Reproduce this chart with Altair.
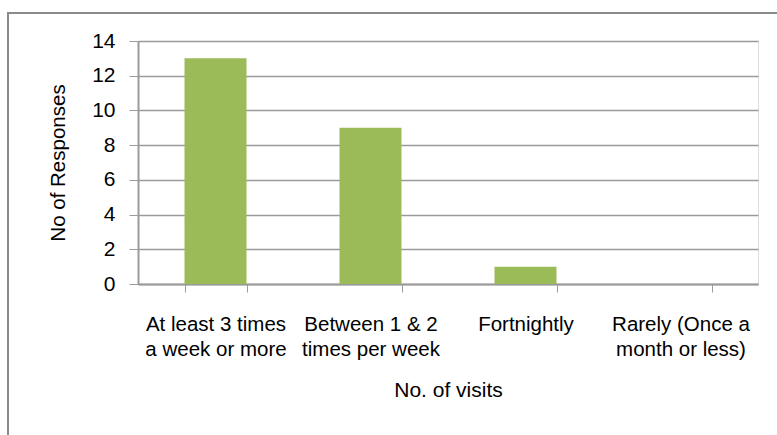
import altair as alt
import pandas as pd

categories = [
    "At least 3 times\na week or more",
    "Between 1 & 2\ntimes per week",
    "Fortnightly",
    "Rarely (Once a\nmonth or less)",
]
responses = [13, 9, 1, 0]
y_ticks = [0, 2, 4, 6, 8, 10, 12, 14]

df = pd.DataFrame({"visits": categories, "responses": responses})

FONT = "Liberation Sans"
GRAY = "#9a9a9a"

bars = alt.Chart(df).mark_bar(color="#9BBB59").encode(
    x=alt.X(
        "visits:N",
        sort=categories,
        scale=alt.Scale(paddingInner=0.6, paddingOuter=0.3),
        axis=alt.Axis(
            title="No. of visits",
            labelAngle=0,
            labelExpr="split(datum.label, '\\n')",
            labelLineHeight=25,
            labelFontSize=20.5,
            labelPadding=22,
            labelColor="#000000",
            labelFont=FONT,
            tickBand="extent",
            tickSize=8,
            tickColor=GRAY,
            domainColor=GRAY,
            domainWidth=2,
            titleFont=FONT,
            titleFontSize=21,
            titleFontWeight="normal",
            titleColor="#000000",
            titlePadding=20,
            grid=False,
        ),
    ),
    y=alt.Y(
        "responses:Q",
        scale=alt.Scale(domain=[0, 14], nice=False),
        axis=alt.Axis(
            title="No of Responses",
            values=y_ticks,
            labelFont=FONT,
            labelFontSize=21,
            labelColor="#000000",
            labelPadding=14,
            tickSize=9,
            tickColor=GRAY,
            domainColor=GRAY,
            domainWidth=2,
            gridColor=GRAY,
            gridWidth=1.5,
            titleFont=FONT,
            titleFontSize=20.5,
            titleFontWeight="normal",
            titleColor="#000000",
            titlePadding=23,
        ),
    ),
)

frame = alt.Chart(pd.DataFrame({"f": [0]})).mark_rect(
    fill=None, stroke="#8a8a8a", strokeWidth=2
).encode(
    x=alt.value(-130),
    x2=alt.value(700),
    y=alt.value(-28),
    y2=alt.value(500),
)

chart = alt.layer(frame, bars).properties(
    width=620,
    height=243,
    autosize=alt.AutoSizeParams(type="none"),
    padding={"left": 138, "top": 41, "right": 19, "bottom": 151},
).configure_view(stroke=None).configure(background="white")

chart.save("out.html", embed_options={"renderer": "svg", "actions": False})
